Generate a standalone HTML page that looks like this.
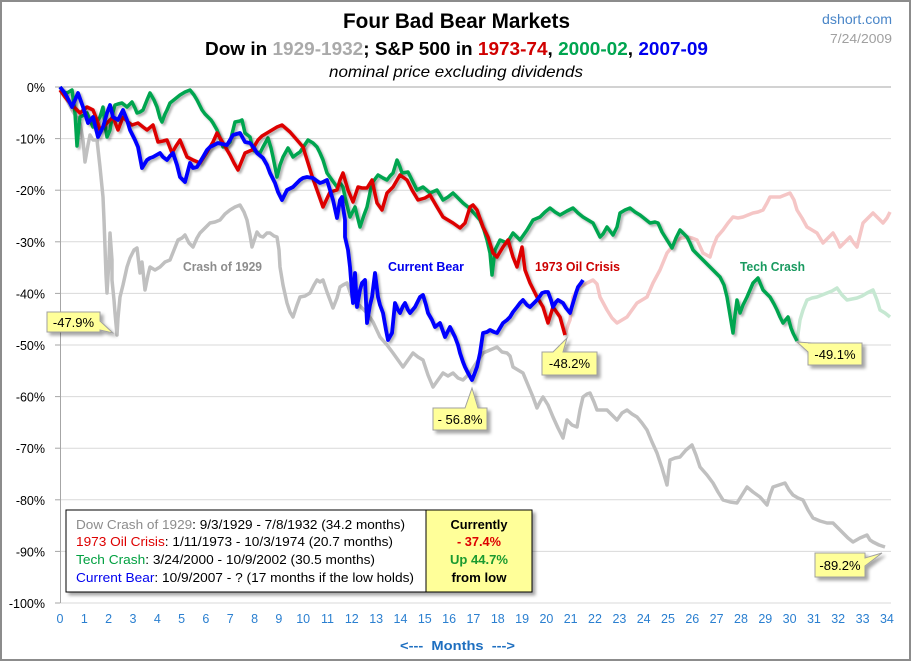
<!DOCTYPE html>
<html><head><meta charset="utf-8">
<style>
html,body{margin:0;padding:0;background:#fff;}
svg{display:block;}
text{font-family:"Liberation Sans",sans-serif;}
</style></head>
<body>
<svg width="912" height="662" viewBox="0 0 912 662" xmlns="http://www.w3.org/2000/svg">
<defs>
<filter id="sh" x="-10%" y="-10%" width="130%" height="130%">
<feDropShadow dx="2" dy="2" stdDeviation="1" flood-color="#000" flood-opacity="0.3"/>
</filter>
<filter id="bsh" x="-10%" y="-10%" width="130%" height="140%">
<feDropShadow dx="3" dy="3" stdDeviation="1.5" flood-color="#000" flood-opacity="0.35"/>
</filter>
</defs>
<rect x="0" y="0" width="912" height="662" fill="#fff"/>
<rect x="1" y="1" width="909" height="659" fill="none" stroke="#8c8c8c" stroke-width="2"/>

<!-- titles -->
<text x="343" y="28" font-size="21" font-weight="bold" fill="#000" textLength="227" lengthAdjust="spacingAndGlyphs">Four Bad Bear Markets</text>
<text x="205" y="55" font-size="18" font-weight="bold" fill="#000" textLength="503" lengthAdjust="spacingAndGlyphs">Dow in <tspan fill="#aaaaaa">1929-1932</tspan>; S&amp;P 500 in <tspan fill="#d00000">1973-74</tspan>, <tspan fill="#00a550">2000-02</tspan>, <tspan fill="#0000ee">2007-09</tspan></text>
<text x="329" y="77" font-size="16" font-style="italic" fill="#000" textLength="254" lengthAdjust="spacingAndGlyphs">nominal price excluding dividends</text>
<text x="822" y="24" font-size="14" fill="#4a86c8" textLength="70" lengthAdjust="spacingAndGlyphs">dshort.com</text>
<text x="830" y="43" font-size="13" fill="#a0a0a0" textLength="62" lengthAdjust="spacingAndGlyphs">7/24/2009</text>

<!-- gridlines -->
<g stroke="#d9d9d9" stroke-width="1">
<line x1="60" y1="138.6" x2="891" y2="138.6"/>
<line x1="60" y1="190.2" x2="891" y2="190.2"/>
<line x1="60" y1="241.8" x2="891" y2="241.8"/>
<line x1="60" y1="293.4" x2="891" y2="293.4"/>
<line x1="60" y1="345" x2="891" y2="345"/>
<line x1="60" y1="396.6" x2="891" y2="396.6"/>
<line x1="60" y1="448.2" x2="891" y2="448.2"/>
<line x1="60" y1="499.8" x2="891" y2="499.8"/>
<line x1="60" y1="551.4" x2="891" y2="551.4"/>
<line x1="60" y1="603" x2="891" y2="603"/>
</g>
<line x1="60" y1="87" x2="891" y2="87" stroke="#a6a6a6" stroke-width="1"/>
<line x1="60.5" y1="87" x2="60.5" y2="603" stroke="#a6a6a6" stroke-width="1"/>
<g stroke="#a6a6a6" stroke-width="1">
<line x1="55" y1="87" x2="60" y2="87"/><line x1="55" y1="138.6" x2="60" y2="138.6"/><line x1="55" y1="190.2" x2="60" y2="190.2"/><line x1="55" y1="241.8" x2="60" y2="241.8"/><line x1="55" y1="293.4" x2="60" y2="293.4"/><line x1="55" y1="345" x2="60" y2="345"/><line x1="55" y1="396.6" x2="60" y2="396.6"/><line x1="55" y1="448.2" x2="60" y2="448.2"/><line x1="55" y1="499.8" x2="60" y2="499.8"/><line x1="55" y1="551.4" x2="60" y2="551.4"/><line x1="55" y1="603" x2="60" y2="603"/>
</g>

<!-- y labels -->
<g font-size="12.5" fill="#000" text-anchor="end">
<text x="45" y="92">0%</text>
<text x="45" y="143.6">-10%</text>
<text x="45" y="195.2">-20%</text>
<text x="45" y="246.8">-30%</text>
<text x="45" y="298.4">-40%</text>
<text x="45" y="350">-50%</text>
<text x="45" y="401.6">-60%</text>
<text x="45" y="453.2">-70%</text>
<text x="45" y="504.8">-80%</text>
<text x="45" y="556.4">-90%</text>
<text x="45" y="608">-100%</text>
</g>

<!-- x labels -->
<g font-size="12.5" fill="#2a7fd0" text-anchor="middle">
<text x="60" y="623">0</text><text x="84.3" y="623">1</text><text x="108.6" y="623">2</text><text x="133" y="623">3</text><text x="157.3" y="623">4</text><text x="181.6" y="623">5</text><text x="205.9" y="623">6</text><text x="230.2" y="623">7</text><text x="254.6" y="623">8</text><text x="278.9" y="623">9</text><text x="303.2" y="623">10</text><text x="327.5" y="623">11</text><text x="351.8" y="623">12</text><text x="376.2" y="623">13</text><text x="400.5" y="623">14</text><text x="424.8" y="623">15</text><text x="449.1" y="623">16</text><text x="473.4" y="623">17</text><text x="497.8" y="623">18</text><text x="522.1" y="623">19</text><text x="546.4" y="623">20</text><text x="570.7" y="623">21</text><text x="595" y="623">22</text><text x="619.4" y="623">23</text><text x="643.7" y="623">24</text><text x="668" y="623">25</text><text x="692.3" y="623">26</text><text x="716.6" y="623">27</text><text x="741" y="623">28</text><text x="765.3" y="623">29</text><text x="789.6" y="623">30</text><text x="813.9" y="623">31</text><text x="838.2" y="623">32</text><text x="862.6" y="623">33</text><text x="886.9" y="623">34</text>
</g>
<text x="400" y="650" font-size="13" font-weight="bold" fill="#1e6fc0" textLength="115" lengthAdjust="spacingAndGlyphs" style="white-space:pre">&lt;---  Months  ---&gt;</text>

<!-- faded series -->
<polyline fill="none" stroke="#f5c6c6" stroke-width="3.5" stroke-linejoin="round" points="565,335 568,325 570,320 573,297 577,290 580,287 587,283 593,280 597,284 600,297 607,310 612,318 617,323 622,320 627,317 632,310 637,303 642,300 647,297 653,283 660,270 667,253 672,247 677,240 682,238 687,237 692,238 697,240 703,253 710,257 713,247 717,237 723,230 728,223 733,217 738,218 743,217 748,215 753,213 758,212 763,210 767,203 770,197 775,197 780,197 785,195 790,193 794,200 797,210 802,218 807,227 812,230 817,233 820,238 823,243 828,238 833,233 837,240 840,247 845,242 850,237 853,242 857,247 860,235 863,223 868,218 873,213 878,218 883,223 887,218 890,212"/>
<polyline fill="none" stroke="#c6e8d2" stroke-width="3.5" stroke-linejoin="round" points="797,341 800,320 803,310 807,300 812,298 817,297 822,295 827,293 832,291 837,288 842,295 847,300 852,299 857,298 862,296 867,293 873,290 877,300 880,310 885,313 890,317"/>

<!-- gray 1929 -->
<polyline fill="none" stroke="#c0c0c0" stroke-width="3.5" stroke-linejoin="round" points="60,87 63,92 67,100 72,110 77,118 80,123 83,140 85,162 88,145 90,135 93,140 97,140 100,167 103,197 104,220 105,247 106,275 107,293 109,260 110,233 112,260 112,280 114,300 115,313 117,335 118,318 120,297 123,285 127,267 130,258 134,250 137,248 140,273 142,262 145,290 148,275 150,267 155,270 160,267 165,262 170,260 174,250 178,240 182,238 185,235 189,243 193,247 197,238 200,233 205,228 210,223 215,222 220,220 225,214 230,210 235,207 240,205 244,212 247,220 250,235 252,247 255,238 257,232 260,236 263,237 267,233 270,233 274,236 277,237 279,250 280,267 283,285 287,303 290,312 293,317 297,305 300,297 305,296 310,293 314,285 317,280 320,282 323,280 327,292 330,300 333,308 337,298 340,287 343,285 347,283 350,292 353,300 360,306 367,313 373,322 380,337 387,345 393,353 398,360 403,367 408,360 413,353 418,357 423,360 428,375 433,387 438,380 443,373 448,376 453,373 458,378 463,380 467,376 470,373 473,368 477,362 483,353 490,350 497,347 502,352 507,353 510,356 513,367 518,370 523,373 528,385 533,397 537,408 540,402 543,397 548,405 553,417 558,428 563,438 567,420 572,425 577,427 580,410 583,397 587,394 590,393 594,402 597,410 602,410 607,410 612,415 617,420 622,413 627,410 632,414 637,417 642,423 647,430 652,442 657,453 662,468 667,485 670,460 675,458 680,457 686,450 692,445 696,455 700,467 707,475 713,483 718,492 723,500 730,502 737,503 742,495 747,487 753,492 760,497 767,505 770,495 773,487 779,485 785,483 789,490 793,495 798,498 803,500 808,510 813,518 820,521 827,523 833,523 838,528 843,533 848,538 853,542 860,538 867,535 870,540 873,542 879,545 885,547"/>

<!-- green 2000-02 -->
<polyline filter="url(#sh)" fill="none" stroke="#00a550" stroke-width="3.5" stroke-linejoin="round" points="60,87 64,92 67,93 72,90 75,113 77,146 79,125 80,117 84,115 87,113 90,120 93,127 97,122 100,117 103,107 105,125 107,137 110,130 113,112 115,105 118,104 122,103 127,107 132,102 135,108 137,113 140,112 143,110 147,100 150,93 154,100 157,107 160,118 162,122 165,114 167,110 170,103 175,99 180,95 185,92 190,90 194,95 197,100 200,106 202,110 205,114 208,117 211,120 213,123 217,130 220,138 223,147 227,145 230,142 233,130 235,122 240,121 242,120 245,133 250,137 253,150 257,152 260,153 263,147 268,138 271,148 273,157 277,177 280,165 283,157 288,148 293,157 297,154 300,152 304,146 308,140 313,143 317,147 320,153 323,160 327,173 332,180 337,187 340,183 343,187 345,197 350,217 355,207 360,227 364,215 367,207 372,183 378,175 383,178 387,180 390,176 393,173 397,160 400,167 402,173 408,172 412,180 417,190 423,187 430,193 437,190 443,200 448,197 453,193 458,198 463,203 468,207 473,212 480,220 484,230 487,240 490,253 492,275 495,250 500,240 507,243 513,233 520,240 527,230 533,220 540,217 545,212 550,208 555,212 560,215 567,211 573,208 578,213 583,217 588,220 593,223 600,237 603,234 607,227 613,235 617,227 620,213 625,210 630,208 635,212 640,215 645,219 650,223 655,222 658,223 662,232 667,240 672,248 676,238 680,230 684,234 687,237 690,243 693,250 698,255 703,260 708,265 713,270 717,274 720,277 724,285 727,297 730,315 733,333 735,315 737,300 740,313 743,305 747,297 750,290 753,283 758,278 763,290 767,294 770,297 774,304 777,310 780,317 783,323 788,317 791,328 793,333 797,341"/>

<!-- red 1973-74 -->
<polyline filter="url(#sh)" fill="none" stroke="#dd0000" stroke-width="3.5" stroke-linejoin="round" points="60,90 65,97 70,103 75,108 80,113 87,107 93,110 97,120 100,130 107,123 113,117 118,130 123,117 128,122 132,125 138,123 143,127 147,130 153,125 158,142 163,141 167,140 172,153 176,146 180,140 187,157 193,160 200,163 207,152 213,142 217,133 223,143 230,155 234,163 238,170 245,153 252,150 258,140 262,136 267,133 272,130 277,127 282,125 290,132 297,140 303,147 308,163 312,176 317,190 323,207 330,192 337,190 340,180 343,173 348,190 353,202 358,187 362,188 367,188 372,180 377,203 382,210 387,193 393,187 400,175 407,180 412,190 418,200 425,198 430,195 437,207 443,217 448,220 453,223 460,228 465,223 470,207 473,205 477,210 483,227 488,237 493,253 497,257 503,247 508,240 513,257 517,267 522,247 525,270 530,283 537,297 543,307 548,323 553,307 560,317 565,335"/>

<!-- blue 2007-09 -->
<polyline filter="url(#sh)" fill="none" stroke="#0000ff" stroke-width="3.8" stroke-linejoin="round" points="60,87 64,92 67,97 72,107 75,100 78,93 83,107 88,123 93,117 98,137 103,127 107,113 110,105 113,117 118,120 123,110 127,120 130,130 135,140 138,147 142,168 147,160 150,158 153,157 160,153 163,157 167,160 170,156 173,153 177,165 180,177 185,182 190,163 193,168 197,167 200,162 203,157 207,150 210,147 214,145 218,143 222,144 227,145 230,140 233,135 240,133 245,142 250,143 254,148 257,153 263,158 267,165 270,173 275,183 278,192 282,200 287,190 293,187 297,183 300,180 303,178 307,177 313,178 317,181 320,183 323,182 327,180 330,190 333,200 337,218 340,200 342,197 343,207 345,220 345,237 348,250 350,267 352,293 353,303 355,273 357,307 360,290 362,283 365,280 367,323 370,305 372,297 375,273 378,297 380,305 383,313 386,330 388,340 392,333 395,303 398,310 400,313 403,306 405,303 408,310 410,313 415,307 420,297 423,295 426,305 428,313 432,320 435,327 440,323 445,337 450,327 455,337 458,345 460,353 463,362 465,367 468,373 472,380 474,375 477,367 480,353 483,333 487,332 490,330 494,332 497,333 500,328 503,323 507,320 510,317 513,312 517,307 520,303 523,300 527,305 530,307 533,304 537,300 540,296 542,293 545,292 548,292 551,300 553,307 556,302 558,300 563,303 566,308 570,313 573,303 576,293 578,287 581,283 583,280"/>

<!-- series labels -->
<text x="183" y="271" font-size="13" font-weight="bold" fill="#8c8c8c" textLength="79" lengthAdjust="spacingAndGlyphs">Crash of 1929</text>
<text x="388" y="271" font-size="13" font-weight="bold" fill="#0000ee" textLength="76" lengthAdjust="spacingAndGlyphs">Current Bear</text>
<text x="535" y="271" font-size="13" font-weight="bold" fill="#cc0000" textLength="85" lengthAdjust="spacingAndGlyphs">1973 Oil Crisis</text>
<text x="740" y="271" font-size="13" font-weight="bold" fill="#1a9a60" textLength="65" lengthAdjust="spacingAndGlyphs">Tech Crash</text>

<!-- callouts -->
<g fill="#ffff99" stroke="#a0a0a0" stroke-width="1" filter="url(#bsh)">
<path d="M47,312 H100 V321 L113,333 L100,330 V332 H47 Z"/>
<path d="M433,408 H465 L472,388 L478,408 H487 V430 H433 Z"/>
<path d="M542,352 H553 L567,338 L563,352 H597 V375 H542 Z"/>
<path d="M808,343 H862 V365 H808 V352 L797,342 L812,343 Z"/>
<path d="M815,553 H865 V558 L882,553 L865,566 V577 H815 Z"/>
</g>
<g font-size="13" fill="#000" text-anchor="middle">
<text x="73.5" y="327">-47.9%</text>
<text x="460" y="424">- 56.8%</text>
<text x="569.5" y="368">-48.2%</text>
<text x="835" y="359">-49.1%</text>
<text x="840" y="570">-89.2%</text>
</g>

<!-- legend box -->
<rect x="66" y="510" width="466" height="82" fill="#fff" stroke="#000" stroke-width="1" filter="url(#bsh)"/>
<rect x="426" y="510" width="106" height="82" fill="#ffff99" stroke="#000" stroke-width="1"/>
<g font-size="13" fill="#000" style="white-space:pre">
<text x="76" y="529" textLength="329" lengthAdjust="spacingAndGlyphs"><tspan fill="#8c8c8c">Dow Crash of 1929</tspan>:  9/3/1929  - 7/8/1932  (34.2 months)</text>
<text x="76" y="546" textLength="317" lengthAdjust="spacingAndGlyphs"><tspan fill="#dd0000">1973 Oil Crisis</tspan>: 1/11/1973  - 10/3/1974  (20.7 months)</text>
<text x="76" y="564" textLength="299" lengthAdjust="spacingAndGlyphs"><tspan fill="#00a040">Tech Crash</tspan>:  3/24/2000  - 10/9/2002  (30.5 months)</text>
<text x="76" y="582" textLength="338" lengthAdjust="spacingAndGlyphs"><tspan fill="#0000ee">Current Bear</tspan>: 10/9/2007  - ?  (17 months if the low holds)</text>
</g>
<g font-size="13" font-weight="bold" text-anchor="middle">
<text x="479" y="529" fill="#000" textLength="57" lengthAdjust="spacingAndGlyphs">Currently</text>
<text x="479" y="546" fill="#dd0000" textLength="44" lengthAdjust="spacingAndGlyphs">- 37.4%</text>
<text x="479" y="564" fill="#1a9a30" textLength="58" lengthAdjust="spacingAndGlyphs">Up 44.7%</text>
<text x="479" y="582" fill="#000" textLength="55" lengthAdjust="spacingAndGlyphs">from low</text>
</g>
</svg>
</body></html>
